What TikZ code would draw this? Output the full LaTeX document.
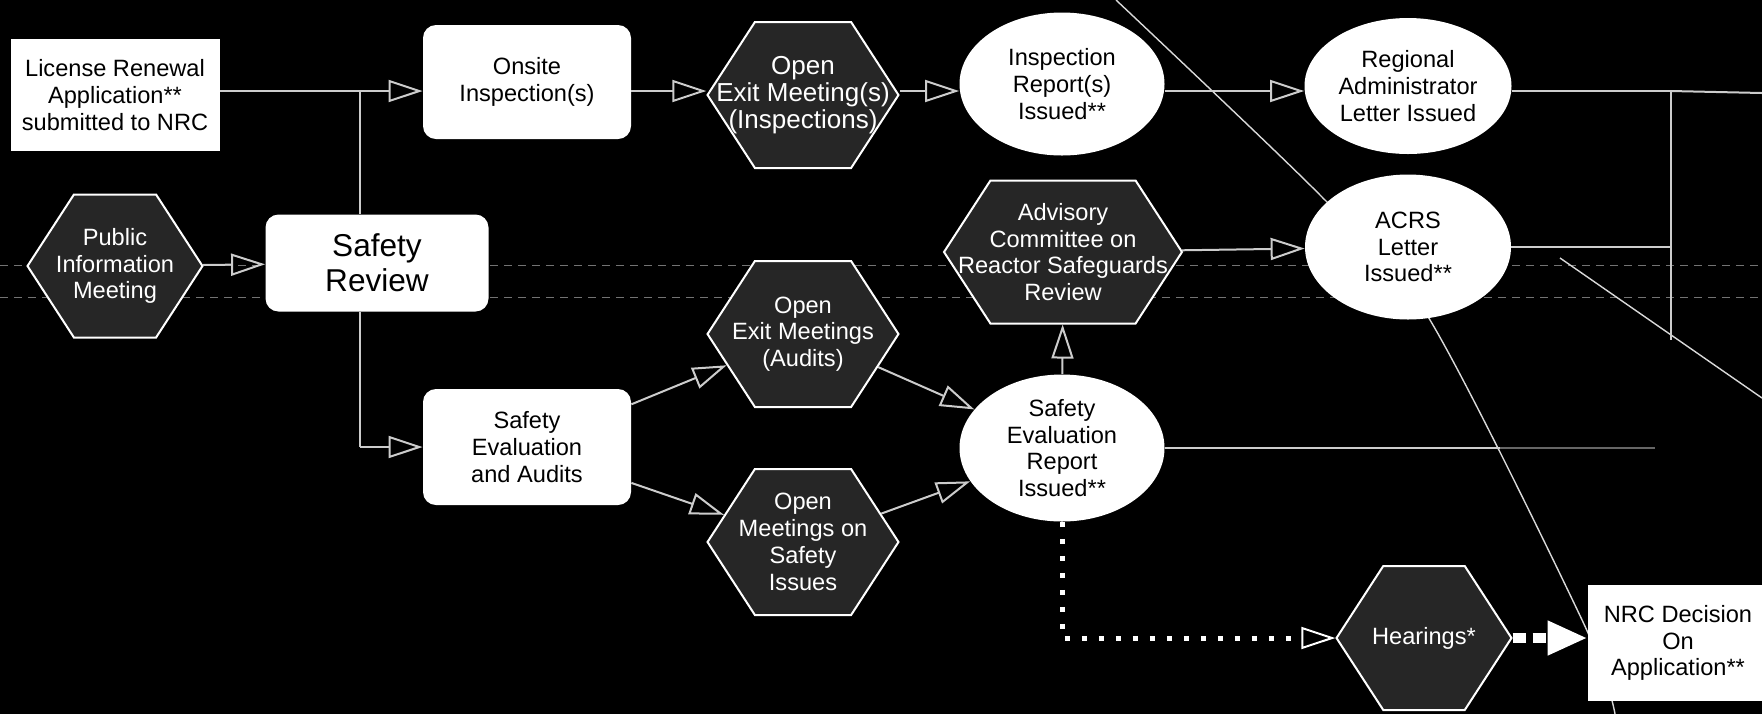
\documentclass[tikz,border=0pt]{standalone}
\usepackage{fontspec}
\setmainfont{Liberation Sans}
\usetikzlibrary{arrows.meta,shapes.geometric,shapes.symbols}

\begin{document}
\begin{tikzpicture}[
    x=0.5pt, y=-0.5pt,
    every node/.style={align=center, inner sep=0pt, font=\fontsize{11.8}{13.4}\selectfont},
    plainbox/.style={rectangle, fill=white},
    roundbox/.style={rectangle, rounded corners=6.5pt, fill=white},
    oval/.style={ellipse, fill=white},
    hexa/.style={signal, signal to=east and west, signal pointer angle=114,
      fill=black!85, draw=white, line width=1pt},
    hexlabel/.style={text=white},
    link/.style={draw=white!80!black, line width=1pt},
    linkarrow/.style={link, -{Triangle[open,length=17pt,width=11pt]}},
    dots/.style={draw=white, line width=2.5pt, dash pattern=on 2.5pt off 6pt,
      -{Triangle[open,length=17pt,width=11pt,line width=1pt]}},
    bigdots/.style={draw=white, line width=5pt, dash pattern=on 6.5pt off 3.5pt,
      -{Triangle[length=20pt,width=16pt]}},
    scanline/.style={draw=white!45!black, line width=0.4pt, dash pattern=on 4pt off 3pt},
    crease/.style={draw=white!85!black, line width=0.7pt}
  ]
  \fill[black] (0,0) rectangle (1762,714);
  \useasboundingbox (0,0) rectangle (1762,714);

  \draw[scanline] (0,265) -- (1762,265);
  \draw[scanline] (0,297) -- (1762,297);
  \draw[crease] plot[smooth] coordinates {(1116,0) (1320,195) (1427,315) (1583,622) (1615,714)};
  \draw[crease] (1560,258) -- (1762,398);

  \node[plainbox, minimum width=104.5pt, minimum height=56pt] (lra) at (115,95)
    {License Renewal\\Application**\\submitted to NRC};
  \node[roundbox, minimum width=104pt, minimum height=57pt] (onsite) at (527,82)
    {Onsite\\Inspection(s)};
  \node[hexa, minimum width=95.5pt, minimum height=73pt,
    label={[hexlabel, font=\fontsize{13}{13.6}\selectfont]center:{Open\\Exit Meeting(s)\\(Inspections)}}]
    (exi) at (803,95) {};
  \node[oval, minimum width=102.5pt, minimum height=71.5pt] (irep) at (1062,84)
    {Inspection\\Report(s)\\Issued**};
  \node[oval, minimum width=103.5pt, minimum height=68pt] (reg) at (1408,86)
    {Regional\\Administrator\\Letter Issued};

  \node[hexa, minimum width=87.5pt, minimum height=71.5pt,
    label={[hexlabel]center:{Public\\Information\\Meeting}}] (pim) at (115,266) {};
  \node[roundbox, minimum width=111.5pt, minimum height=48.5pt,
    font=\fontsize{15.8}{17.5}\selectfont] (sr) at (377,263) {Safety\\Review};
  \node[hexa, minimum width=119pt, minimum height=71.5pt,
    label={[hexlabel]center:{Advisory\\Committee on\\Reactor Safeguards\\Review}}] (acrsr) at (1063,252) {};
  \node[oval, minimum width=103pt, minimum height=72.5pt] (acrs) at (1408,247)
    {ACRS\\Letter\\Issued**};

  \node[hexa, minimum width=95.5pt, minimum height=73pt,
    label={[hexlabel]center:{Open\\Exit Meetings\\(Audits)}}] (aud) at (803,334) {};
  \node[roundbox, minimum width=104pt, minimum height=58pt] (sea) at (527,447)
    {Safety\\Evaluation\\and Audits};
  \node[oval, minimum width=102.5pt, minimum height=73.5pt] (ser) at (1062,448)
    {Safety\\Evaluation\\Report\\Issued**};
  \node[hexa, minimum width=95.5pt, minimum height=73pt,
    label={[hexlabel]center:{Open\\Meetings on\\Safety\\Issues}}] (saf) at (803,542) {};

  \node[hexa, minimum width=87.5pt, minimum height=72pt,
    label={[hexlabel]center:Hearings*}] (hear) at (1424,638) {};
  \node[plainbox, minimum width=90pt, minimum height=58pt] (nrc) at (1678,643)
    {NRC Decision\\On\\Application**};

  \coordinate (ju) at (360,91);
  \coordinate (jd) at (360,447);
  \coordinate (jr) at (1671,91);
  \coordinate (jb) at (1671,340);
  \coordinate (re) at (1762,93);
  \coordinate (sx) at (1500,448);
  \coordinate (sy) at (1655,448);

  \draw[link] (lra.east |- ju) -- (ju);
  \draw[link] (sr.north -| ju) -- (ju);
  \draw[linkarrow] (ju) -- (onsite.west |- ju);
  \draw[link] (sr.south -| jd) -- (jd);
  \draw[linkarrow] (jd) -- (sea);
  \draw[linkarrow] (pim) -- (sr);
  \draw[linkarrow] (onsite.east |- ju) -- (exi.west |- ju);
  \draw[linkarrow] (exi.east |- ju) -- (irep.west |- ju);
  \draw[linkarrow] (irep.east |- ju) -- (reg.west |- ju);
  \draw[link] (reg.east |- ju) -- (jr) -- (jb);
  \draw[link] (jr) -- (re);
  \draw[link] (acrs.east) -- (acrs.east -| jr);
  \draw[linkarrow] (sea) -- (aud);
  \draw[linkarrow] (sea) -- (saf);
  \draw[linkarrow] (aud) -- (ser);
  \draw[linkarrow] (saf) -- (ser);
  \draw[linkarrow] (ser) -- (acrsr);
  \draw[linkarrow] (acrsr) -- (acrs);
  \draw[link] (ser.east) -- (sx);
  \draw[link, draw=white!40!black] (sx) -- (sy);
  \draw[dots] (ser.south) |- (hear);
  \draw[bigdots] (hear) -- (nrc.west |- hear);
\end{tikzpicture}
\end{document}
